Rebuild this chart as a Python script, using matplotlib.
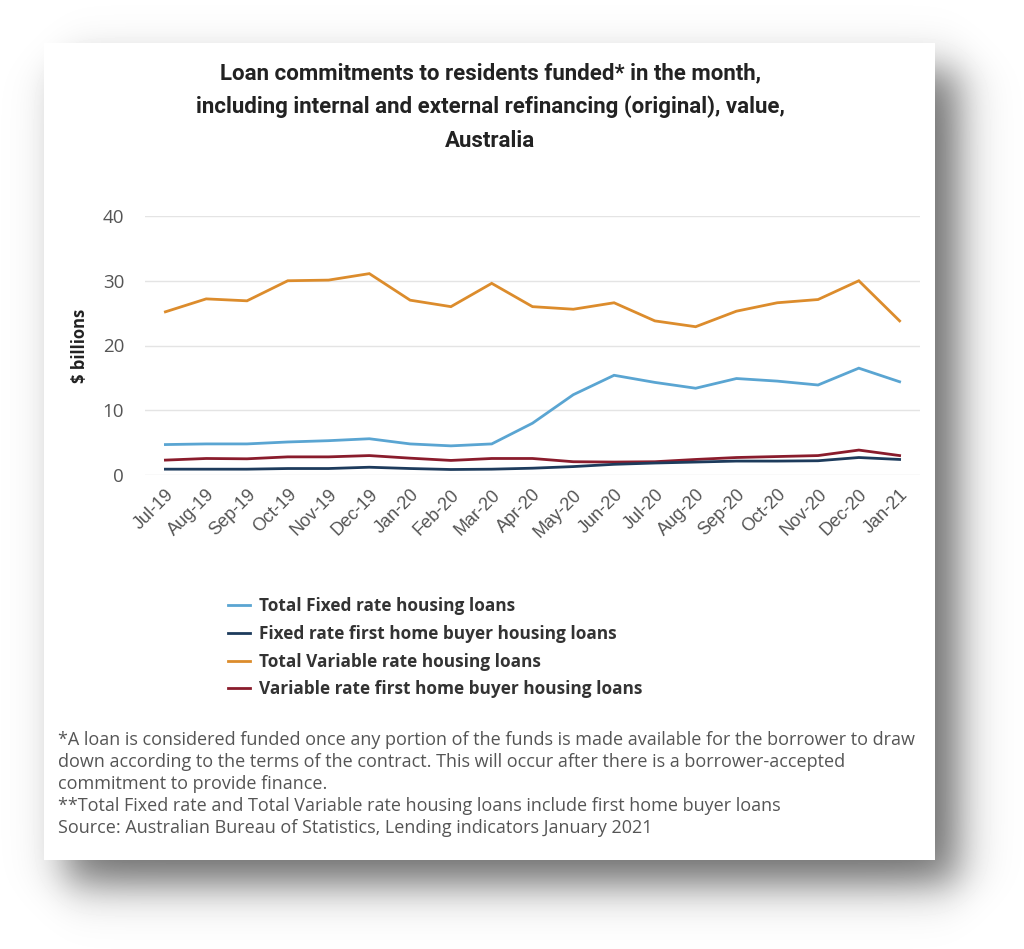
import numpy as np
import matplotlib
matplotlib.use('Agg')
import matplotlib.pyplot as plt
from matplotlib.patches import Rectangle

months = ['Jul-19', 'Aug-19', 'Sep-19', 'Oct-19', 'Nov-19', 'Dec-19', 'Jan-20',
          'Feb-20', 'Mar-20', 'Apr-20', 'May-20', 'Jun-20', 'Jul-20', 'Aug-20',
          'Sep-20', 'Oct-20', 'Nov-20', 'Dec-20', 'Jan-21']

total_fixed = [4.7, 4.8, 4.8, 5.1, 5.3, 5.6, 4.8, 4.5, 4.8, 8.0, 12.4, 15.4,
               14.3, 13.4, 14.9, 14.5, 13.9, 16.5, 14.4]
fixed_fhb = [0.9, 0.9, 0.9, 1.0, 1.0, 1.2, 1.0, 0.85, 0.9, 1.05, 1.3, 1.65,
             1.85, 2.0, 2.15, 2.15, 2.2, 2.7, 2.4]
total_var = [25.2, 27.2, 26.9, 30.0, 30.1, 31.1, 27.0, 26.0, 29.6, 26.0, 25.6,
             26.6, 23.8, 22.9, 25.3, 26.6, 27.1, 30.0, 23.8]
var_fhb = [2.3, 2.55, 2.5, 2.8, 2.8, 3.0, 2.6, 2.25, 2.55, 2.55, 2.05, 2.0,
           2.05, 2.4, 2.7, 2.85, 3.0, 3.85, 3.0]

labels = ['Total Fixed rate housing loans',
          'Fixed rate first home buyer housing loans',
          'Total Variable rate housing loans',
          'Variable rate first home buyer housing loans']
colors = ['#5aa5d2', '#1d3b5c', '#dc8c2c', '#8a1c2c']

title = ('Loan commitments to residents funded* in the month,\n'
         'including internal and external refinancing (original), value,\n'
         'Australia')
notes = ['*A loan is considered funded once any portion of the funds is made available for the borrower to draw',
         'down according to the terms of the contract. This will occur after there is a borrower-accepted',
         'commitment to provide finance.',
         '**Total Fixed rate and Total Variable rate housing loans include first home buyer loans',
         'Source: Australian Bureau of Statistics, Lending indicators January 2021']

W, H = 1024, 949
fig = plt.figure(figsize=(W / 100, H / 100), dpi=100)

# background: card with soft drop shadow (pixel coordinates)
bg = fig.add_axes([0, 0, 1, 1])
bg.set_xlim(0, W)
bg.set_ylim(H, 0)
bg.axis('off')

xx = np.arange(W) + 0.5
yy = np.arange(H) + 0.5


def soft(v, a, b, s):
    return 0.5 * (np.tanh((v - a) / s) - np.tanh((v - b) / s))


shade = 0.58 * np.outer(soft(yy, 70, 884, 26), soft(xx, 66, 958, 26))
bg.imshow(1 - shade, cmap='gray', vmin=0, vmax=1, extent=(0, W, H, 0),
          interpolation='bilinear', zorder=0)
bg.add_patch(Rectangle((44, 43), 891, 817, facecolor='white', edgecolor='none', zorder=1))

bg.text(490, 107, title, ha='center', va='center', fontsize=16, fontweight='bold',
        family='Roboto', color='#222222', linespacing=1.65, zorder=2)

for i, line in enumerate(notes):
    bg.text(58, 740 + i * 22, line, ha='left', va='center', fontsize=13,
            family='Open Sans', color='#555555', zorder=2)

# chart
ax = fig.add_axes([145 / W, 1 - 475 / H, 775 / W, 259 / H])
ax.set_facecolor('none')
x = np.arange(len(months))
series = [total_fixed, fixed_fhb, total_var, var_fhb]
order = [2, 0, 3, 1]
lines = {}
for k in order:
    lines[k], = ax.plot(x, series[k], color=colors[k], lw=2, label=labels[k],
                        solid_joinstyle='miter', zorder=3)

ax.set_xlim(-0.5, 18.5)
ax.set_ylim(0, 40)
ax.set_yticks([0, 10, 20, 30, 40])
ax.grid(axis='y', color='#e4e4e4', lw=1)
ax.set_axisbelow(True)
for s in ax.spines.values():
    s.set_visible(False)
ax.tick_params(length=0)
ax.tick_params(axis='y', labelsize=13.5, labelcolor='#555555', pad=15)
ax.set_xticks(x)
ax.set_xticklabels(months, rotation=45, ha='right', rotation_mode='anchor',
                   fontsize=13, color='#555555', family='Liberation Sans')
ax.tick_params(axis='x', pad=8)
for t in ax.get_yticklabels():
    t.set_family('Open Sans')
ax.set_ylabel('$ billions', fontsize=12, fontweight='bold', color='#222222',
              family='Open Sans', labelpad=10)

leg = ax.legend([lines[k] for k in range(4)], labels, loc='upper left',
                bbox_to_anchor=(228 / W, 1 - 597 / H), bbox_transform=fig.transFigure,
                frameon=False, borderpad=0, borderaxespad=0, handlelength=1.3,
                handletextpad=0.5, labelspacing=0.57,
                prop={'family': 'Open Sans', 'weight': 'bold', 'size': 12.4})
for t in leg.get_texts():
    t.set_color('#333333')

fig.savefig('out.png', dpi=100)
